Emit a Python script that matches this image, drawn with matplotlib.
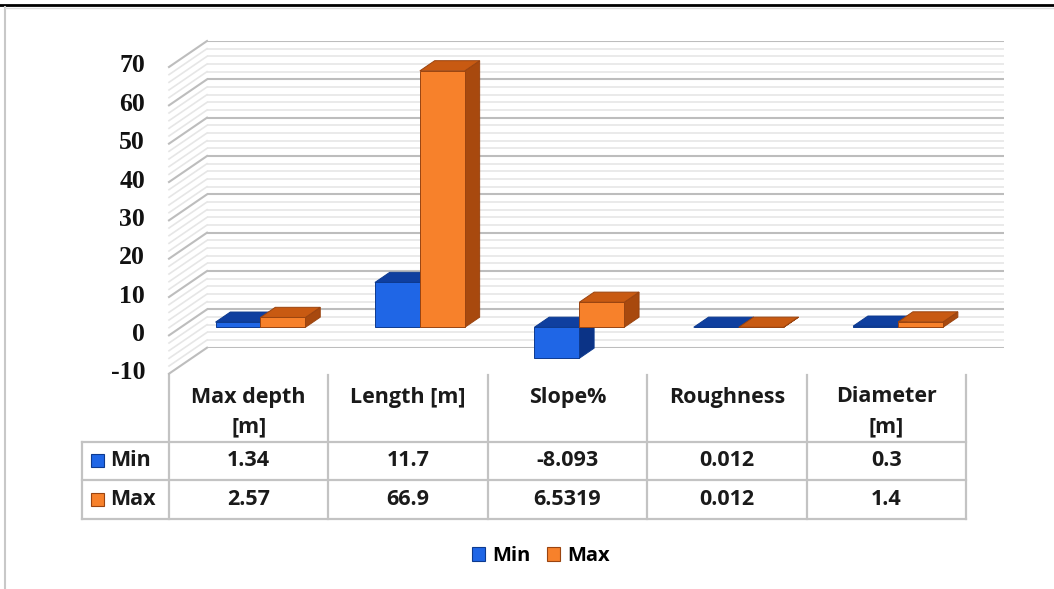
"""
Min / max pipe parameters drawn as an Excel-style 3-D clustered column
chart with a data table underneath.
"""
import matplotlib
matplotlib.use("Agg")
import matplotlib.pyplot as plt
from matplotlib.lines import Line2D
from matplotlib.patches import Polygon, Rectangle
from matplotlib.transforms import IdentityTransform
import numpy as np

categories = ["Max depth\n[m]", "Length [m]", "Slope%", "Roughness", "Diameter\n[m]"]
series = ["Min", "Max"]
min_values = [1.34, 11.7, -8.093, 0.012, 0.3]
max_values = [2.57, 66.9, 6.5319, 0.012, 1.4]
y_ticks = list(range(-10, 80, 10))

# front, top and side shades of each series
shades = {
    "Min": ("#1f66e6", "#0f3f9f", "#0b3386"),
    "Max": ("#f7812b", "#c85a12", "#a8490e"),
}
edges = {"Min": "#0d3a8f", "Max": "#9a4410"}

SANS = ["Open Sans", "DejaVu Sans"]
SERIF = ["Liberation Serif", "DejaVu Serif"]

W, H = 1054, 589
fig = plt.figure(figsize=(W / 100, H / 100), dpi=100)
fig.patch.set_facecolor("white")

# page layer in pixel units, y pointing down
page = fig.add_axes([0, 0, 1, 1])
page.set_xlim(0, W)
page.set_ylim(H, 0)
page.axis("off")

# back wall of the chart: x = category, y = value
ax = fig.add_axes([207 / W, 1 - 347.7 / H, (1004 - 207) / W, (347.7 - 41) / H])
ax.set_xlim(-0.5, len(categories) - 0.5)
ax.set_ylim(y_ticks[0], y_ticks[-1])
ax.set_autoscale_on(False)
ax.axis("off")

DEPTH = np.array([-38.0, -26.0])   # back wall -> front of floor, display px
BAR_FRONT, BAR_BACK = 0.69, 0.30
BAR_W = 0.282
IDT = IdentityTransform()


def to_px(x, v, d):
    return ax.transData.transform((x, v)) + d * DEPTH


# gridlines on back wall and side wall
for v in np.arange(-10, 71, 2):
    major = v % 10 == 0
    col = "#bdbdbd" if major else "#e6e6e6"
    lw = 1.5 if major else 1.2
    ax.axhline(v, color=col, lw=lw, zorder=1 if major else 0.5)
    p0, p1 = to_px(-0.5, v, 0), to_px(-0.5, v, 1)
    ax.add_line(Line2D([p0[0], p1[0]], [p0[1], p1[1]], color=col, lw=lw,
                       transform=IDT, clip_on=False, zorder=1 if major else 0.5))

# value axis labels on the front edge of the side wall
for v in y_ticks:
    px, py = to_px(-0.5, v, 1)
    ax.text(px - 24, py + 1, str(v), transform=IDT, ha="right", va="center",
            fontsize=18.5, fontweight="bold", family=SERIF, color="#111111")


def draw_box(x0, x1, v, name, z):
    front, top, side = shades[name]
    lo, hi = min(0, v), max(0, v)
    faces = [
        ([to_px(x1, lo, BAR_FRONT), to_px(x1, hi, BAR_FRONT),
          to_px(x1, hi, BAR_BACK), to_px(x1, lo, BAR_BACK)], side),
        ([to_px(x0, hi, BAR_FRONT), to_px(x1, hi, BAR_FRONT),
          to_px(x1, hi, BAR_BACK), to_px(x0, hi, BAR_BACK)], top),
        ([to_px(x0, lo, BAR_FRONT), to_px(x1, lo, BAR_FRONT),
          to_px(x1, hi, BAR_FRONT), to_px(x0, hi, BAR_FRONT)], front),
    ]
    for pts, fc in faces:
        ax.add_patch(Polygon(pts, closed=True, facecolor=fc, edgecolor=edges[name],
                             lw=0.7, transform=IDT, clip_on=False, zorder=z))


z = 3
for i in range(len(categories)):
    for j, (name, vals) in enumerate(zip(series, [min_values, max_values])):
        x0 = i - BAR_W + j * BAR_W
        draw_box(x0, x0 + BAR_W, vals[i], name, z)
        z += 0.01

# data table under the floor
col_x = [to_px(i - 0.5, y_ticks[0], 1)[0] for i in range(len(categories) + 1)]
key_left = 82
head_top, row_lines = 375, [441.7, 480, 519]
grid_kw = dict(color="#c3c3c3", lw=1.6)
for x in col_x:
    page.plot([x, x], [head_top, row_lines[-1]], **grid_kw)
page.plot([key_left, key_left], [row_lines[0], row_lines[-1]], **grid_kw)
for y in row_lines:
    page.plot([key_left, col_x[-1]], [y, y], **grid_kw)

txt_kw = dict(fontsize=15.5, fontweight="bold", family=SANS, color="#1a1a1a")
for i, label in enumerate(categories):
    cx = (col_x[i] + col_x[i + 1]) / 2
    for k, line in enumerate(label.split("\n")):
        page.text(cx, 397 + 30 * k, line, ha="center", va="center", **txt_kw)

for r, (name, vals) in enumerate(zip(series, [min_values, max_values])):
    cy = (row_lines[r] + row_lines[r + 1]) / 2
    page.add_patch(Rectangle((91, cy - 6.5), 13, 13, facecolor=shades[name][0],
                             edgecolor=edges[name], lw=0.8))
    page.text(110, cy, name, ha="left", va="center", **txt_kw)
    for i, v in enumerate(vals):
        cx = (col_x[i] + col_x[i + 1]) / 2
        page.text(cx, cy, f"{v:g}", ha="center", va="center", **txt_kw)

# legend below the table
handles = [Rectangle((0, 0), 1, 1, facecolor=shades[n][0], edgecolor=edges[n], lw=0.8)
           for n in series]
fig.legend(handles, series, loc="center", bbox_to_anchor=(541 / W, 1 - 556 / H),
           ncol=2, frameon=False, handlelength=0.65, handleheight=0.65,
           handletextpad=0.35, columnspacing=0.8,
           prop=dict(family=SANS, weight="bold", size=14.5))

# page rule and chart border
page.plot([0, W], [4.5, 4.5], color="black", lw=2.0)
page.plot([5, 5], [7, H], color="#c8c8c8", lw=1.5)
page.plot([5, W], [7.5, 7.5], color="#dddddd", lw=1.0)

fig.savefig("out.png", dpi=100)
